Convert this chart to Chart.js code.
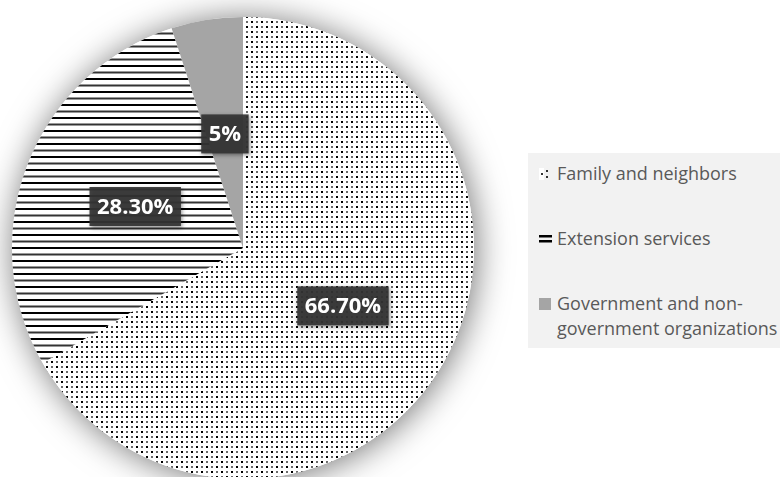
<!DOCTYPE html>
<html><head><meta charset="utf-8">
<script src="https://cdn.jsdelivr.net/npm/chart.js@4"></script>
<style>
html,body{margin:0;padding:0;background:#fff;overflow:hidden;width:780px;height:477px}
#wrap{position:absolute;left:0;top:0;width:780px;height:482px}
#legend{position:absolute;left:528px;top:153px;width:260px;height:195px;background:#f2f2f2;font-family:'Open Sans',sans-serif;font-size:18px;color:#595959}
.item{position:absolute;left:11px;white-space:nowrap;line-height:25px}
.item canvas{position:absolute;left:0;top:7px}
.item .txt{position:absolute;left:18px;top:0}
</style></head>
<body>
<div id="wrap"><canvas id="c" width="780" height="482"></canvas></div>
<div id="legend"></div>
<script>
const categories = ['Family and neighbors', 'Extension services', 'Government and non-government organizations'];
const values = [66.7, 28.3, 5];
const valueLabels = ['66.70%', '28.30%', '5%'];
const legendLines = [['Family and neighbors'], ['Extension services'], ['Government and non-', 'government organizations']];

function dotPattern(ctx) {
  const t = document.createElement('canvas'); t.width = 10; t.height = 10;
  const g = t.getContext('2d');
  g.fillStyle = '#fff'; g.fillRect(0, 0, 10, 10);
  g.fillStyle = '#000'; g.fillRect(1, 1, 2, 2); g.fillRect(6, 6, 2, 2);
  g.fillStyle = '#6a6a6a'; g.fillRect(6, 1, 2, 2); g.fillRect(1, 6, 2, 2);
  return ctx.createPattern(t, 'repeat');
}
function stripePattern(ctx) {
  const t = document.createElement('canvas'); t.width = 10; t.height = 13;
  const g = t.getContext('2d');
  g.fillStyle = '#fff'; g.fillRect(0, 0, 10, 13);
  g.fillStyle = '#000'; g.fillRect(0, 0, 10, 2);
  g.fillStyle = '#333'; g.fillRect(0, 6.5, 10, 2);
  return ctx.createPattern(t, 'repeat');
}

const canvas = document.getElementById('c');
const ctx = canvas.getContext('2d');
const colors = [dotPattern(ctx), stripePattern(ctx), '#a5a5a5'];

const shadowPlugin = {
  id: 'pieShadow',
  beforeDatasetsDraw(chart) {
    const a = chart.getDatasetMeta(0).data[0];
    const c = chart.ctx;
    c.save();
    c.shadowColor = 'rgba(0,0,0,0.55)';
    c.shadowBlur = 34;
    c.shadowOffsetX = 2;
    c.shadowOffsetY = 2;
    c.beginPath();
    c.arc(a.x, a.y, a.outerRadius, 0, Math.PI * 2);
    c.fillStyle = '#fff';
    c.fill();
    c.restore();
  }
};

const labelPlugin = {
  id: 'valLabels',
  afterDatasetsDraw(chart) {
    const c = chart.ctx;
    const meta = chart.getDatasetMeta(0);
    meta.data.forEach((arc, i) => {
      const p = arc.getCenterPoint();
      const txt = valueLabels[i];
      c.save();
      c.font = 'bold 22px "Open Sans", sans-serif';
      const w = c.measureText(txt).width + 15;
      const h = 39;
      c.shadowColor = 'rgba(0,0,0,0.45)';
      c.shadowBlur = 4;
      c.shadowOffsetX = 1;
      c.shadowOffsetY = 2;
      c.fillStyle = 'rgba(52,52,52,0.93)';
      c.fillRect(p.x - w / 2, p.y - h / 2, w, h);
      c.restore();
      c.save();
      c.font = 'bold 22px "Open Sans", sans-serif';
      c.fillStyle = '#fff';
      c.textAlign = 'center';
      c.textBaseline = 'middle';
      c.fillText(txt, p.x, p.y + 1);
      c.restore();
    });
  }
};

new Chart(canvas, {
  type: 'pie',
  data: {
    labels: categories,
    datasets: [{ data: values, backgroundColor: colors, borderWidth: 0 }]
  },
  options: {
    responsive: false,
    animation: false,
    layout: { padding: { left: 12, right: 306, top: 17, bottom: 3 } },
    plugins: { legend: { display: false }, tooltip: { enabled: false } }
  },
  plugins: [shadowPlugin, labelPlugin]
});

// legend
const legend = document.getElementById('legend');
const tops = [7.5, 72.5, 137.5];
categories.forEach((cat, i) => {
  const item = document.createElement('div');
  item.className = 'item';
  item.style.top = tops[i] + 'px';
  const sw = document.createElement('canvas');
  sw.width = 13; sw.height = 12;
  const g = sw.getContext('2d');
  if (i === 0) {
    g.fillStyle = '#fff'; g.fillRect(0, 0, 5, 12);
    g.fillStyle = '#333'; g.fillRect(2, 5, 2, 2); g.fillRect(7, 2, 2, 2); g.fillRect(7, 8, 2, 2);
  } else if (i === 1) {
    g.fillStyle = '#000'; g.fillRect(0, 2, 13, 2.5); g.fillRect(0, 7, 13, 2.5);
  } else {
    g.fillStyle = '#a5a5a5'; g.fillRect(0, 0, 12, 12);
  }
  item.appendChild(sw);
  const t = document.createElement('div');
  t.className = 'txt';
  t.innerHTML = legendLines[i].join('<br>');
  item.appendChild(t);
  legend.appendChild(item);
});
</script>
</body></html>
